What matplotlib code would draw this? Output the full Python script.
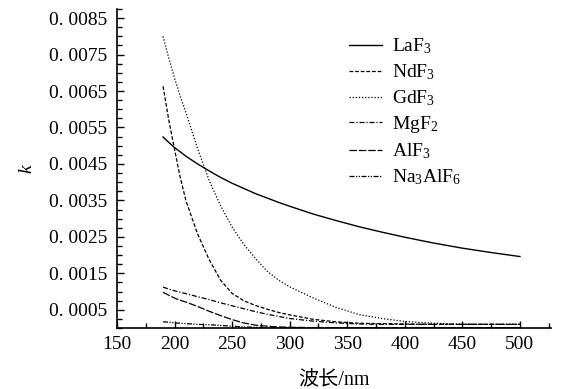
import matplotlib
matplotlib.use("Agg")
from matplotlib import pyplot as plt
from matplotlib.ticker import FixedLocator, MultipleLocator

plt.rcParams['font.family'] = ['Liberation Serif', 'Noto Sans CJK SC', 'DejaVu Sans']
plt.rcParams['mathtext.fontset'] = 'custom'
plt.rcParams['mathtext.rm'] = 'Liberation Serif'
plt.rcParams['mathtext.it'] = 'Liberation Serif:italic'

# wavelength (nm)
wl = [190, 195, 200, 205, 210, 220, 230, 240, 250, 260, 270, 280, 290, 300,
      320, 340, 360, 380, 400, 425, 450, 475, 500]

laf3 = [0.00524, 0.00509, 0.00495, 0.00483, 0.00471, 0.00450, 0.00431, 0.00413,
        0.00397, 0.00383, 0.00369, 0.00357, 0.00345, 0.00334, 0.00313, 0.00295,
        0.00278, 0.00263, 0.00249, 0.00233, 0.00219, 0.00207, 0.00196]
ndf3 = [0.00663, 0.00570, 0.00490, 0.00412, 0.00348, 0.00258, 0.00188, 0.00131,
        0.00095, 0.00075, 0.00062, 0.00052, 0.00043, 0.00036, 0.00024, 0.00017,
        0.00013, 0.00012, 0.00011, 0.00010, 0.00010, 0.00010, 0.00010]
gdf3 = [0.00800, 0.00740, 0.00685, 0.00635, 0.00590, 0.00492, 0.00405, 0.00335,
        0.00277, 0.00230, 0.00192, 0.00157, 0.00132, 0.00113, 0.00083, 0.00057,
        0.00037, 0.00026, 0.00018, 0.00013, 0.00011, 0.00010, 0.00010]
mgf2 = [0.00112, 0.00107, 0.00102, 0.00098, 0.00094, 0.00086, 0.00078, 0.00069,
        0.00061, 0.00053, 0.00045, 0.00038, 0.00032, 0.00026, 0.00019, 0.00014,
        0.00011, 0.00010, 0.00010, 0.00010, 0.00010, 0.00010, 0.00010]
alf3 = [0.00098, 0.00090, 0.00082, 0.00076, 0.00071, 0.00059, 0.00046, 0.00034,
        0.00023, 0.00014, 0.00008, 0.00005, 0.00003, 0.00002, 0.00001, 0.00001,
        0.00001, 0.00001, 0.00001, 0.00001, 0.00001, 0.00001, 0.00001]
na3alf6 = [0.00017, 0.00016, 0.00014, 0.00013, 0.00012, 0.00010, 0.00009, 0.00007,
           0.00005, 0.00003, 0.00002, 0.00001, 0.00001, 0.00001, 0.00001, 0.00001,
           0.00001, 0.00001, 0.00001, 0.00001, 0.00001, 0.00001, 0.00001]

names = [r'LaF$_\mathrm{3}$', r'NdF$_\mathrm{3}$', r'GdF$_\mathrm{3}$',
         r'MgF$_\mathrm{2}$', r'AlF$_\mathrm{3}$', r'Na$_\mathrm{3}$AlF$_\mathrm{6}$']

xticks = [150, 200, 250, 300, 350, 400, 450, 500]
yticks = [0.0005, 0.0015, 0.0025, 0.0035, 0.0045, 0.0055, 0.0065, 0.0075, 0.0085]
ylabels = ['0. 0005', '0. 0015', '0. 0025', '0. 0035', '0. 0045',
           '0. 0055', '0. 0065', '0. 0075', '0. 0085']

fig = plt.figure(figsize=(5.62, 3.89), dpi=100)
ax = fig.add_axes([117/562, 1-328/389, (551-117)/562, (328-9)/389])

styles = ['-', (0, (3, 1.5)), (0, (1, 1.5)), (0, (4, 1.5, 1, 1.5)),
          (0, (6, 1.5)), (0, (4, 1.2, 1, 1.2, 1, 1.2))]
series = [laf3, ndf3, gdf3, mgf2, alf3, na3alf6]
for s, ls, nm in zip(series, styles, names):
    ax.plot(wl, s, color='black', linestyle=ls, lw=1.0 if ls == '-' else 0.9, label=nm)

ax.set_xlim(150, 527)
ax.set_ylim(0, 0.00875)
ax.xaxis.set_major_locator(FixedLocator(xticks))
ax.xaxis.set_minor_locator(MultipleLocator(25))
ax.yaxis.set_major_locator(FixedLocator(yticks))
ax.yaxis.set_minor_locator(MultipleLocator(0.00025))
ax.set_yticklabels(ylabels)
ax.tick_params(which='both', direction='in', width=1.0, labelsize=14)
ax.tick_params(axis='y', pad=7)
ax.tick_params(axis='x', pad=6)
ax.tick_params(which='major', length=5)
ax.tick_params(which='minor', length=3.5)
for sp in ['top', 'right']:
    ax.spines[sp].set_visible(False)
for sp in ['left', 'bottom']:
    ax.spines[sp].set_linewidth(1.2)

ax.set_xlabel('波长/nm', fontsize=14.5, labelpad=13)
ax.set_ylabel('k', fontstyle='italic', fontsize=14, labelpad=10)

fig.legend(loc='upper left', bbox_to_anchor=(349/562, 1-36.5/389), frameon=False,
           fontsize=14, handlelength=1.7, handletextpad=0.5, labelspacing=0.32,
           borderpad=0, borderaxespad=0)

fig.savefig('out.png', dpi=100)
